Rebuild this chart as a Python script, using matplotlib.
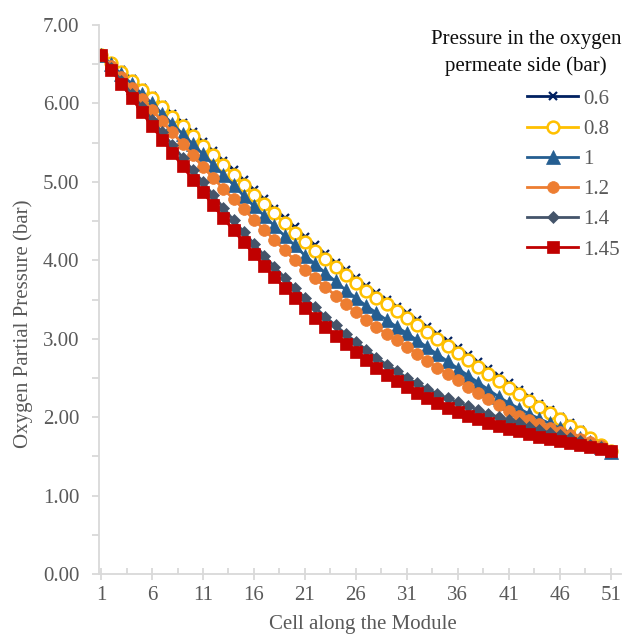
import numpy as np
import matplotlib
matplotlib.use("Agg")
import matplotlib.pyplot as plt
from matplotlib.ticker import MultipleLocator, FixedLocator

plt.rcParams['font.family'] = ['Liberation Serif', 'DejaVu Serif']

cells = np.arange(1, 52)
x_tick_labels = [str(v) for v in range(1, 52, 5)]

p_06 = [6.62, 6.53, 6.42, 6.31, 6.20, 6.10, 5.98, 5.87, 5.75, 5.63,
        5.51, 5.39, 5.27, 5.15, 5.02, 4.90, 4.78, 4.66, 4.54, 4.42,
        4.30, 4.19, 4.08, 3.97, 3.87, 3.77, 3.67, 3.58, 3.49, 3.41,
        3.33, 3.24, 3.15, 3.06, 2.97, 2.88, 2.79, 2.70, 2.61, 2.52,
        2.43, 2.34, 2.26, 2.17, 2.09, 2.00, 1.92, 1.83, 1.75, 1.66, 1.56]
p_08 = [6.62, 6.52, 6.40, 6.29, 6.17, 6.07, 5.95, 5.83, 5.71, 5.58,
        5.46, 5.34, 5.21, 5.09, 4.96, 4.83, 4.72, 4.60, 4.47, 4.35,
        4.23, 4.12, 4.02, 3.91, 3.81, 3.71, 3.61, 3.52, 3.44, 3.35,
        3.27, 3.18, 3.09, 3.00, 2.91, 2.82, 2.73, 2.64, 2.55, 2.46,
        2.37, 2.29, 2.21, 2.13, 2.05, 1.97, 1.89, 1.81, 1.73, 1.65, 1.57]
p_10 = [6.62, 6.50, 6.37, 6.25, 6.12, 6.00, 5.87, 5.74, 5.61, 5.48,
        5.35, 5.22, 5.09, 4.96, 4.82, 4.69, 4.57, 4.44, 4.31, 4.19,
        4.06, 3.95, 3.84, 3.73, 3.62, 3.52, 3.42, 3.33, 3.24, 3.15,
        3.07, 2.98, 2.89, 2.80, 2.71, 2.62, 2.53, 2.44, 2.35, 2.26,
        2.18, 2.11, 2.04, 1.98, 1.92, 1.86, 1.80, 1.74, 1.68, 1.62, 1.55]
p_12 = [6.62, 6.48, 6.34, 6.20, 6.06, 5.92, 5.77, 5.63, 5.48, 5.34,
        5.19, 5.05, 4.91, 4.78, 4.65, 4.52, 4.39, 4.26, 4.13, 4.00,
        3.88, 3.77, 3.66, 3.55, 3.44, 3.34, 3.24, 3.15, 3.06, 2.98,
        2.90, 2.81, 2.72, 2.63, 2.55, 2.47, 2.39, 2.31, 2.23, 2.15,
        2.08, 2.02, 1.96, 1.91, 1.86, 1.81, 1.77, 1.72, 1.68, 1.63, 1.57]
p_14 = [6.62, 6.45, 6.29, 6.12, 5.96, 5.79, 5.63, 5.47, 5.31, 5.15,
        5.00, 4.83, 4.67, 4.51, 4.36, 4.21, 4.06, 3.92, 3.78, 3.65,
        3.52, 3.40, 3.28, 3.17, 3.06, 2.96, 2.86, 2.76, 2.67, 2.59,
        2.50, 2.43, 2.36, 2.30, 2.24, 2.19, 2.14, 2.09, 2.04, 2.00,
        1.96, 1.93, 1.88, 1.84, 1.80, 1.77, 1.73, 1.70, 1.65, 1.62, 1.57]
p_145 = [6.62, 6.43, 6.25, 6.07, 5.89, 5.71, 5.54, 5.37, 5.20, 5.03,
         4.87, 4.70, 4.54, 4.38, 4.23, 4.08, 3.93, 3.79, 3.65, 3.52,
         3.39, 3.27, 3.15, 3.04, 2.93, 2.83, 2.73, 2.63, 2.54, 2.46,
         2.38, 2.31, 2.24, 2.18, 2.12, 2.07, 2.02, 1.97, 1.93, 1.89,
         1.85, 1.82, 1.78, 1.75, 1.72, 1.70, 1.67, 1.65, 1.62, 1.60, 1.57]

series_labels = ['0.6', '0.8', '1', '1.2', '1.4', '1.45']
series_values = [p_06, p_08, p_10, p_12, p_14, p_145]

styles = [
    dict(color='#002060', marker='x', ms=5.5, mew=1.6, mfc='#002060', mec='#002060'),
    dict(color='#FFC000', marker='o', ms=8.5, mew=1.8, mfc='white', mec='#FFC000'),
    dict(color='#255E91', marker='^', ms=10.0, mew=0.5, mfc='#255E91', mec='#255E91'),
    dict(color='#ED7D31', marker='o', ms=8.5, mew=0.5, mfc='#ED7D31', mec='#ED7D31'),
    dict(color='#44546A', marker='D', ms=6.5, mew=0.5, mfc='#44546A', mec='#44546A'),
    dict(color='#C00000', marker='s', ms=8.8, mew=0.5, mfc='#C00000', mec='#C00000'),
]

W, H = 626, 634
fig = plt.figure(figsize=(W / 100, H / 100), dpi=100)
ax = fig.add_axes([99 / W, (H - 574) / H, (621 - 99) / W, (574 - 25) / H])

handles = []
for lab, vals, st in zip(series_labels, series_values, styles):
    h, = ax.plot(cells, vals, linestyle='-', linewidth=2.0, label=lab, **st)
    handles.append(h)

ax.set_xlim(0.8, 52.0)
ax.set_ylim(0, 7)
ax.xaxis.set_major_locator(FixedLocator(list(range(1, 52, 5))))
ax.set_xticklabels(x_tick_labels)
ax.xaxis.set_minor_locator(FixedLocator([v + 2.5 for v in range(1, 50, 5)]))
ax.yaxis.set_major_locator(MultipleLocator(1.0))
ax.yaxis.set_minor_locator(MultipleLocator(0.5))
ax.yaxis.set_major_formatter(matplotlib.ticker.FormatStrFormatter('%.2f'))

axis_col = '#D9D9D9'
txt_col = '#595959'
for s in ['top', 'right']:
    ax.spines[s].set_visible(False)
for s in ['left', 'bottom']:
    ax.spines[s].set_color(axis_col)
    ax.spines[s].set_linewidth(1.3)

ax.tick_params(axis='y', which='major', direction='out', length=5, width=1.3,
               color=axis_col, labelcolor=txt_col, labelsize=15, pad=9)
ax.tick_params(axis='y', which='minor', direction='out', length=5, width=1.3,
               color=axis_col)
ax.tick_params(axis='x', which='major', direction='inout', length=9, width=1.3,
               color=axis_col, labelcolor=txt_col, labelsize=15, pad=4)
ax.tick_params(axis='x', which='minor', direction='in', length=4, width=1.3,
               color=axis_col)

fig.text(363 / W, 1 - 629 / H, 'Cell along the Module', ha='center', va='baseline',
         fontsize=15, color=txt_col)
fig.text(23 / W, 1 - 324 / H, 'Oxygen Partial Pressure (bar)', ha='center', va='center',
         rotation=90, fontsize=15, color=txt_col)

fig.text(526 / W, 1 - 44 / H, 'Pressure in the oxygen', ha='center', va='baseline',
         fontsize=15, color='#0D0D0D')
fig.text(526 / W, 1 - 70.7 / H, 'permeate side (bar)', ha='center', va='baseline',
         fontsize=15, color='#0D0D0D')

leg = ax.legend(handles=handles, loc='upper left',
                bbox_to_anchor=(527 / W, 1 - 89 / H), bbox_transform=fig.transFigure,
                frameon=False, fontsize=15, handlelength=2.45, handletextpad=0.25,
                labelspacing=0.51, borderpad=0, borderaxespad=0, numpoints=1)
for t in leg.get_texts():
    t.set_color(txt_col)

fig.savefig('out.png', dpi=100)
